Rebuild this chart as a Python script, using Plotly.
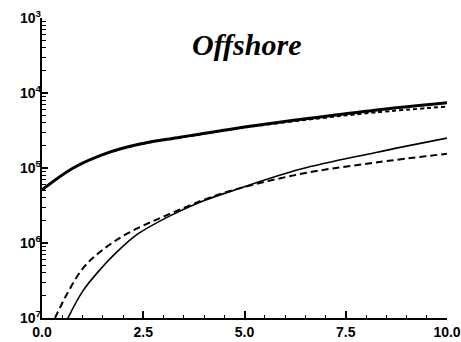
import plotly.graph_objects as go

# Curve A: thick solid (upper)
xa = [0.0, 0.77, 1.6, 2.42, 3.41, 4.81, 6.62, 8.22, 10.0]
ya = [5.1e-6, 1.0e-5, 1.58e-5, 2.09e-5, 2.57e-5, 3.39e-5, 4.6e-5, 5.9e-5, 7.4e-5]
# Curve B: short dashes (upper)
xb = [0.0, 0.77, 1.6, 2.42, 3.41, 4.81, 6.62, 8.22, 10.0]
yb = [5.1e-6, 1.0e-5, 1.57e-5, 2.07e-5, 2.54e-5, 3.35e-5, 4.45e-5, 5.5e-5, 6.6e-5]
# Curve C: thin solid (lower)
xc = [0.64, 1.01, 1.43, 1.85, 2.35, 3.16, 3.90, 4.81, 6.37, 8.22, 10.0]
yc = [1.0e-7, 2.3e-7, 4.4e-7, 7.6e-7, 1.3e-6, 2.3e-6, 3.5e-6, 5.2e-6, 9.6e-6, 1.6e-5, 2.5e-5]
# Curve D: dashes (lower)
xd = [0.32, 0.62, 1.01, 1.43, 2.10, 3.16, 4.40, 6.37, 8.22, 10.0]
yd = [1.0e-7, 2.1e-7, 4.6e-7, 7.6e-7, 1.33e-6, 2.45e-6, 4.5e-6, 8.3e-6, 1.18e-5, 1.55e-5]

ytickvals = [1e-7, 1e-6, 1e-5, 1e-4, 1e-3]
yticktext = ["10<sup>7</sup>", "10<sup>6</sup>", "10<sup>5</sup>", "10<sup>4</sup>", "10<sup>3</sup>"]
title_text = "Offshore"

fig = go.Figure()
fig.add_trace(go.Scatter(x=xa, y=ya, mode="lines", line=dict(color="black", width=3, shape="spline")))
fig.add_trace(go.Scatter(x=xb, y=yb, mode="lines", line=dict(color="black", width=2, dash="4px,3px", shape="spline")))
fig.add_trace(go.Scatter(x=xc, y=yc, mode="lines", line=dict(color="black", width=1.6, shape="spline")))
fig.add_trace(go.Scatter(x=xd, y=yd, mode="lines", line=dict(color="black", width=2, dash="7px,4px", shape="spline")))
# invisible trace to activate label axis
fig.add_trace(go.Scatter(x=[0], y=[1e-7], mode="markers", marker=dict(opacity=0), yaxis="y2", hoverinfo="skip"))

fig.update_layout(
    width=461, height=342,
    margin=dict(l=42, r=14, t=18, b=24),
    paper_bgcolor="white", plot_bgcolor="white",
    showlegend=False,
    annotations=[dict(text="<b><i>" + title_text + "</i></b>", x=0.505, y=0.91, xref="paper", yref="paper",
                      xanchor="center", yanchor="middle",
                      showarrow=False, font=dict(family="Liberation Serif", size=30, color="black"))],
    yaxis2=dict(type="log", range=[-7, -3], overlaying="y", side="left", automargin=False,
                showgrid=False, zeroline=False, showline=False,
                tickmode="array", tickvals=ytickvals, ticktext=yticktext, ticks="",
                tickfont=dict(family="Liberation Sans", size=14, color="black", weight="bold")),
)
fig.update_xaxes(
    range=[0, 10], showgrid=False, zeroline=False, automargin=False,
    showline=True, linecolor="black", linewidth=2,
    tickmode="linear", tick0=0, dtick=2.5, tickformat=".1f",
    ticks="inside", ticklen=7, tickwidth=1.5, tickcolor="black",
    minor=dict(tick0=0, dtick=0.5, ticks="inside", ticklen=3, tickcolor="black", tickwidth=1),
    tickfont=dict(family="Liberation Sans", size=14, color="black", weight="bold"),
)
fig.layout.yaxis.update(
    type="log", range=[-7, -3], showgrid=False, zeroline=False, automargin=False,
    showline=True, linecolor="black", linewidth=2,
    dtick=1, showticklabels=False,
    ticks="inside", ticklen=6, tickwidth=1.5, tickcolor="black",
    minor=dict(dtick="D1", ticks="inside", ticklen=4, tickcolor="black", tickwidth=1),
)

fig.write_html("out.html")
